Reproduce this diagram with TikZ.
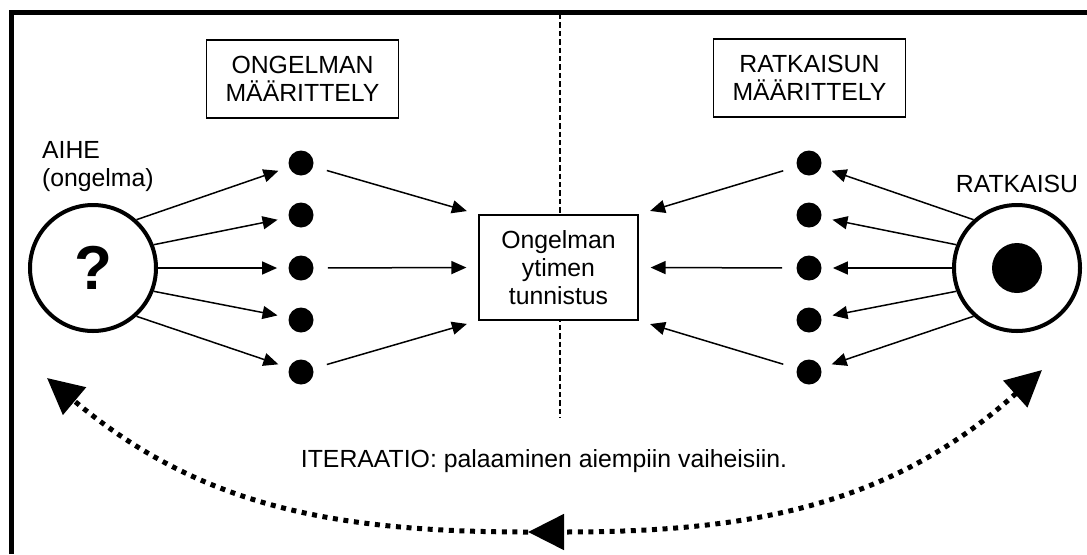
\documentclass[tikz,border=0pt]{standalone}
\usepackage{fontspec}
\setmainfont{Liberation Sans}
\usepackage{tikz}
\usetikzlibrary{arrows.meta,positioning,shapes}
\tikzset{bigtip/.tip={Triangle[length=18pt,width=17.5pt]}}
\tikzstyle{dot} = [circle, fill=black, inner sep=0pt, minimum size=12.5pt]
\tikzstyle{bigcircle} = [circle, draw=black, line width=2pt, inner sep=0pt, minimum size=63pt]
\tikzstyle{phase} = [rectangle, draw=black, line width=0.6pt, align=center, minimum width=96pt, minimum height=39pt]
\tikzstyle{core} = [rectangle, draw=black, fill=white, line width=0.6pt, align=center, minimum width=79.5pt, minimum height=52.5pt]
\tikzstyle{arrow} = [line width=0.75pt, -{Triangle[length=7.5pt,width=6.5pt]}]
\tikzstyle{iter} = [line width=2.5pt, dash pattern=on 2.5pt off 2.8pt]

\begin{document}
\begin{tikzpicture}[x=0.5pt, y=0.5pt, font=\fontsize{12.4pt}{14pt}\selectfont]

%%% HELP LINES - uncomment to design/extend
% \draw[step=50,gray,very thin] (0,0) grid (1087,554);
\useasboundingbox (0,0) rectangle (1087,554);

%% Frame
\draw[line width=2.5pt] (11,0) -- (11,542) -- (1087,542);

% divider between problem and solution
\draw[line width=1pt, dash pattern=on 2.7pt off 1.5pt] (560,540) -- (560,136);

% PHASE BOXES
\node[phase] (ongelma) at (302.5,475) {ONGELMAN\\M\"A\"ARITTELY};
\node[phase] (ratkaisuvaihe) at (809.5,476) {RATKAISUN\\M\"A\"ARITTELY};

% CORE
\node[core] (ydin) at (558.5,286.5) {Ongelman\\ytimen\\tunnistus};

% AIHE
\node[bigcircle, font=\fontsize{31pt}{31pt}\selectfont\bfseries] (aihe) at (93,286) {?};
\node[anchor=west, align=left] (aiheteksti) at (35,387) {AIHE\\(ongelma)};

% RATKAISU
\node[bigcircle] (ratkaisu) at (1017,286) {};
\node[dot, minimum size=25pt] (ratkaisupiste) at (ratkaisu) {};
\node[above=1.5pt of ratkaisu] (ratkaisuteksti) {RATKAISU};

% problem points
\node[dot] (p1) at (301,391) {};
\node[dot] (p2) at (301,339) {};
\node[dot] (p3) at (301,286) {};
\node[dot] (p4) at (301,234) {};
\node[dot] (p5) at (301,182) {};

% solution points
\node[dot] (r1) at (809,391) {};
\node[dot] (r2) at (809,339) {};
\node[dot] (r3) at (809,286) {};
\node[dot] (r4) at (809,234) {};
\node[dot] (r5) at (809,182) {};

% aihe -> points
\draw[arrow, shorten >=5.5pt] (aihe.48) -- (p1);
\draw[arrow, shorten >=5.5pt] (aihe.21) -- (p2);
\draw[arrow, shorten >=5.5pt] (aihe.0) -- (p3);
\draw[arrow, shorten >=5.5pt] (aihe.-21) -- (p4);
\draw[arrow, shorten >=5.5pt] (aihe.-48) -- (p5);

% ratkaisu -> points
\draw[arrow, shorten >=5.5pt] (ratkaisu.132) -- (r1);
\draw[arrow, shorten >=5.5pt] (ratkaisu.159) -- (r2);
\draw[arrow, shorten >=5.5pt] (ratkaisu.180) -- (r3);
\draw[arrow, shorten >=5.5pt] (ratkaisu.201) -- (r4);
\draw[arrow, shorten >=5.5pt] (ratkaisu.228) -- (r5);

% points -> core
\draw[arrow, shorten <=7pt, shorten >=6pt] (p1) -- (ydin.north west);
\draw[arrow, shorten <=7pt, shorten >=6pt] (p3) -- (ydin.west);
\draw[arrow, shorten <=7pt, shorten >=6pt] (p5) -- (ydin.south west);
\draw[arrow, shorten <=7pt, shorten >=6pt] (r1) -- (ydin.north east);
\draw[arrow, shorten <=7pt, shorten >=6pt] (r3) -- (ydin.east);
\draw[arrow, shorten <=7pt, shorten >=6pt] (r5) -- (ydin.south east);

% ITERAATIO
\coordinate (itR) at (1042,184);
\coordinate (itM) at (528,22);
\coordinate (itL) at (47,176);
\draw[iter, bigtip-bigtip] (itR) to[out=222, in=0] (itM);
\draw[iter, -bigtip] (itM) to[out=180, in=-40] (itL);
\node[anchor=base] (iteraatio) at (544,87) {ITERAATIO: palaaminen aiempiin vaiheisiin.};
\end{tikzpicture}
\end{document}
